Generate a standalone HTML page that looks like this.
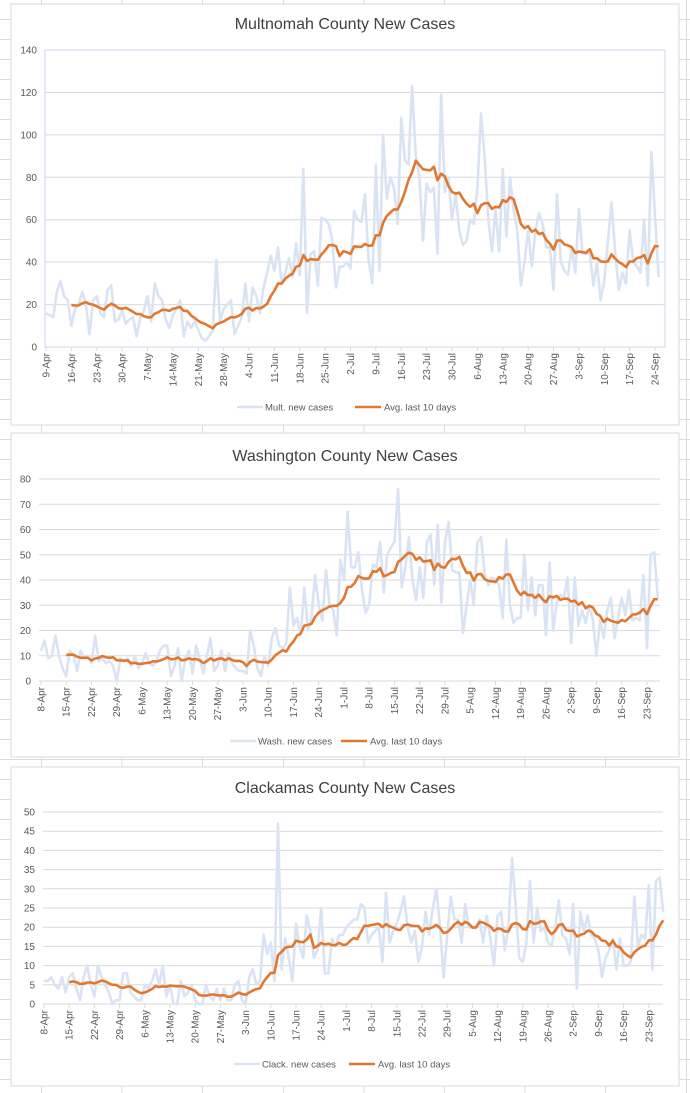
<!DOCTYPE html>
<html><head><meta charset="utf-8">
<style>
html,body{margin:0;padding:0;}
body{width:690px;height:1093px;overflow:hidden;background:#fff;
background-image:repeating-linear-gradient(90deg,transparent 0,transparent 41px,#dcdcdc 41px,#dcdcdc 42px,transparent 42px,transparent 80.6px),repeating-linear-gradient(180deg,transparent 0,transparent 19px,#dcdcdc 19px,#dcdcdc 20px);
font-family:"Liberation Sans",sans-serif;}
svg{position:absolute;left:0;top:0;}
</style></head>
<body>
<svg id="chart" width="690" height="1093"></svg>
<script>
// Multnomah daily cases from 9-Apr
const multDaily=[16,15,14,26,31,24,22, 10,18,20,26,20,6,22, 24,16,14,27,29,12,13, 17,11,13,14,5,14,17,
24,12,30,24,22,13,9, 15,18,22,5,12,9,12, 8,4,3,5,8,41,12, 18,20,22,6,10,14,30,
12,28,24,16,28,35,43, 36,47,30,35,42,33,49, 34,84,16,44,45,29,61, 60,58,50,28,38,38,40,
37,64,60,59,72,41,30,
86,36,100,70,80,75,58,108,88,86,123,90,80,50,77,73,75,44,119,73,80,60,72,55,48,50,60,58,75,110,
90,60,45,65,45,84,52,80,65,55,29,40,55,38,55,63,58,47,47,27,72,40,36,34,47,35,65,44,44,44,
29,40,22,31,50,68,45,27,35,30,55,40,38,35,60,29,92,62,33];
// Washington daily cases from 8-Apr
const washDaily=[12,16,9,10,18,10,5, 2,12,10,4,12,9,10, 7,18,8,9,7,8,6, 0,9,8,9,6,10,5,
7,11,7,6,8,12,14, 14,2,6,13,0,9,12, 3,14,9,3,10,17,4, 6,12,4,11,7,5,4,
4,3,20,14,5,2,10, 6,17,21,14,13,15,37, 22,25,18,37,20,25,42, 30,24,44,30,28,18,48,
40,67,45,45,51,36,27,30,46,45,55,35,50,53,55,76,37,45,57,40,32,45,33,55,58,38,62,31,55,63,
44,43,43,19,30,40,30,55,57,42,38,41,40,38,25,56,30,23,25,25,50,28,41,26,38,38,18,47,20,31,
34,33,41,15,41,22,28,23,30,24,10,24,17,28,33,17,25,33,26,36,24,25,24,42,13,50,51,33];
// Clackamas daily cases from 8-Apr
const clackDaily=[6,6,7,5,4,7,3, 7,8,4,1,7,10,5, 2,10,7,5,3,0,1, 1,8,8,3,2,1,1,
5,4,6,9,5,10,2, 5,0,0,6,2,3,5, 1,0,0,5,2,1,4, 1,4,1,1,5,6,1,
0,7,9,5,6,18,13, 16,6,47,9,17,12,6, 21,15,12,23,19,12,14, 25,8,8,17,15,18,18,
20,21,22,22,26,25,16,18,19,20,11,29,16,19,21,24,28,20,16,19,11,15,24,18,25,30,20,7,18,28,
22,22,16,26,20,20,20,22,16,23,17,10,23,24,14,20,38,26,12,11,16,32,16,25,19,20,16,15,20,27,
18,17,13,26,4,24,19,23,18,17,14,7,12,14,17,9,17,10,10,11,28,15,18,17,31,9,32,33,24];
const multTicks=["9-Apr","16-Apr","23-Apr","30-Apr","7-May","14-May","21-May","28-May","4-Jun","11-Jun","18-Jun","25-Jun","2-Jul","9-Jul","16-Jul","23-Jul","30-Jul","6-Aug","13-Aug","20-Aug","27-Aug","3-Sep","10-Sep","17-Sep","24-Sep"];
const otherTicks=["8-Apr","15-Apr","22-Apr","29-Apr","6-May","13-May","20-May","27-May","3-Jun","10-Jun","17-Jun","24-Jun","1-Jul","8-Jul","15-Jul","22-Jul","29-Jul","5-Aug","12-Aug","19-Aug","26-Aug","2-Sep","9-Sep","16-Sep","23-Sep"];
const multY=[0,20,40,60,80,100,120,140];
const washY=[0,10,20,30,40,50,60,70,80];
const clackY=[0,5,10,15,20,25,30,35,40,45,50];

const NS="http://www.w3.org/2000/svg";
const root=document.getElementById('chart');
function mk(tag,attrs,parent){const e=document.createElementNS(NS,tag);for(const k in attrs)e.setAttribute(k,attrs[k]);(parent||root).appendChild(e);return e;}
function avg10(d,start){const out=[];for(let i=start;i<d.length;i++){let s=0,n=0;for(let j=Math.max(0,i-9);j<=i;j++){s+=d[j];n++;}out.push([i,s/n]);}return out;}

function panel(cfg){
  const g=mk('g',{});
  
  
  const box=mk('rect',{x:cfg.bx,y:cfg.by,width:cfg.bw,height:cfg.bh,fill:'#fff',stroke:'#d9d9d9','stroke-width':1},g);
  
  
  const t=mk('text',{x:345,y:cfg.titleY,'text-anchor':'middle','font-size':16,fill:'#404040'},g);
  t.textContent=cfg.title;
  
  
  const ymax=cfg.yt[cfg.yt.length-1];
  const X=i=>cfg.x0+i*cfg.dx;
  const Y=v=>cfg.y0-(v/ymax)*(cfg.y0-cfg.yTop);
  cfg.yt.forEach(v=>{
    const l=mk('line',{x1:cfg.left,x2:cfg.right,y1:Y(v),y2:Y(v),stroke:'#d9d9d9','stroke-width':1},g);
    
    
    const tx=mk('text',{x:cfg.left-8,y:Y(v)+3.5,'text-anchor':'end','font-size':10,fill:'#595959'},g);
    tx.textContent=v;
    
    
  });
  if(cfg.plotBorder){mk('rect',{x:cfg.left,y:cfg.yTop,width:cfg.right-cfg.left,height:cfg.y0-cfg.yTop,fill:'none',stroke:'#c9d5ee','stroke-width':1},g);}
  cfg.ticks.forEach((s,k)=>{
    const x=X(k*7);
    mk('line',{x1:x,x2:x,y1:cfg.y0,y2:cfg.y0+4,stroke:'#d9d9d9'},g);
    const tx=mk('text',{transform:`translate(${x+3.5},${cfg.y0+6}) rotate(-90)`,'text-anchor':'end','font-size':10,fill:'#595959'},g);
    tx.textContent=s;
    
    
  });
  const pts=cfg.data.map((v,i)=>X(i).toFixed(1)+','+Y(v).toFixed(1)).join(' ');
  const p1=mk('polyline',{points:pts,fill:'none',stroke:'#dae3f3','stroke-width':2.6,'stroke-linejoin':'round'},g);
  
  
  const a=avg10(cfg.data,7).map(([i,v])=>X(i).toFixed(1)+','+Y(v).toFixed(1)).join(' ');
  const p2=mk('polyline',{points:a,fill:'none',stroke:'#e2782f','stroke-width':2.6,'stroke-linejoin':'round'},g);
  
  
  const lg=mk('g',{},g);
  
  
  mk('line',{x1:cfg.lx1,x2:cfg.lx1+26,y1:cfg.ly,y2:cfg.ly,stroke:'#dae3f3','stroke-width':2.6},lg);
  const l1=mk('text',{x:cfg.lx1+28,y:cfg.ly+3.5,'font-size':9.5,fill:'#595959'},lg);
  l1.textContent=cfg.leg1;
  
  
  mk('line',{x1:cfg.lx2,x2:cfg.lx2+26,y1:cfg.ly,y2:cfg.ly,stroke:'#e2782f','stroke-width':2.6},lg);
  const l2=mk('text',{x:cfg.lx2+29,y:cfg.ly+3.5,'font-size':9.5,fill:'#595959'},lg);
  l2.textContent='Avg. last 10 days';
  
  
}
panel({name:'multnomah-chart',title:'Multnomah County New Cases',bx:11,by:4,bw:668,bh:421,titleY:29,
  x0:46,dx:3.625,y0:347,yTop:50,left:45,right:665,yt:multY,ticks:multTicks,data:multDaily,plotBorder:true,
  ly:407,lx1:237,lx2:355,leg1:'Mult. new cases'});
panel({name:'washington-chart',title:'Washington County New Cases',bx:11,by:433,bw:668,bh:324,titleY:461,
  x0:41,dx:3.607,y0:681,yTop:479,left:39,right:660,yt:washY,ticks:otherTicks,data:washDaily,plotBorder:false,
  ly:741,lx1:230,lx2:341,leg1:'Wash. new cases'});
panel({name:'clackamas-chart',title:'Clackamas County New Cases',bx:11,by:767,bw:668,bh:319,titleY:793,
  x0:44,dx:3.6,y0:1004,yTop:812,left:43,right:663,yt:clackY,ticks:otherTicks,data:clackDaily,plotBorder:false,
  ly:1064,lx1:234,lx2:349,leg1:'Clack. new cases'});
</script>
</body></html>
